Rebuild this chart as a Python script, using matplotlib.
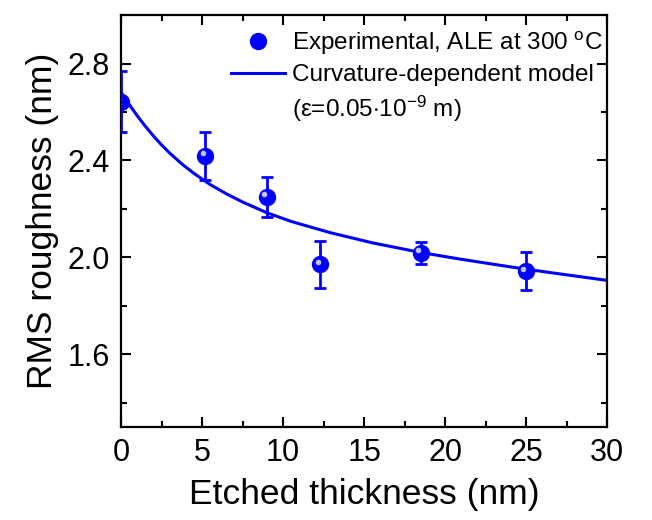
import matplotlib.pyplot as plt
import matplotlib.transforms as mtransforms
from matplotlib.lines import Line2D
from matplotlib.ticker import MultipleLocator

plt.rcParams['font.family'] = ['Liberation Sans', 'DejaVu Sans']
plt.rcParams['mathtext.fontset'] = 'custom'
plt.rcParams['mathtext.rm'] = 'Liberation Sans'
plt.rcParams['mathtext.it'] = 'Liberation Sans:italic'

# datos experimentales
espesor = [0.0, 5.2, 9.0, 12.3, 18.5, 25.0]
rms = [2.643, 2.418, 2.250, 1.971, 2.019, 1.942]
err = [0.125, 0.098, 0.082, 0.096, 0.046, 0.078]

# curva del modelo
x_mod = [0.0, 0.5, 1.0, 1.5, 2.0, 2.5, 3.0, 3.75, 4.5, 5.5, 6.5, 7.5, 9.0, 10.5,
         12.9, 15.5, 18.5, 21.0, 24.0, 26.5, 30.0]
y_mod = [2.68, 2.63, 2.583, 2.54, 2.5, 2.463, 2.43, 2.385, 2.346, 2.3, 2.262, 2.228, 2.184, 2.148,
         2.102, 2.06, 2.02, 1.992, 1.961, 1.937, 1.905]

azul = '#0000FF'

fig = plt.figure(figsize=(6.52, 5.2), dpi=100)
ax = fig.add_axes([0.186, 0.179, 0.745, 0.792])

ax.plot(x_mod, y_mod, color=azul, lw=2.2, zorder=2, solid_joinstyle='round')
ax.errorbar(espesor, rms, yerr=err, fmt='none', ecolor=azul, elinewidth=2, capsize=4, capthick=2, zorder=3)
ax.plot(espesor, rms, 'o', ms=11.5, color=azul, mec=azul, zorder=4)
# brillo de la esfera
brillo = mtransforms.offset_copy(ax.transData, fig=fig, x=-2, y=2, units='points')
ax.plot(espesor, rms, 'o', ms=4, color='#d8d8ff', mec='none', alpha=0.9, transform=brillo, zorder=5)

ax.set_xlim(0, 30)
ax.set_ylim(1.3, 3.0)
ax.xaxis.set_major_locator(MultipleLocator(5))
ax.xaxis.set_minor_locator(MultipleLocator(2.5))
ax.yaxis.set_minor_locator(MultipleLocator(0.2))
ax.set_yticks([1.6, 2.0, 2.4, 2.8])
ax.yaxis.set_major_formatter(plt.FuncFormatter(lambda v, p: f'{v:.1f}'))
ax.tick_params(which='both', direction='in', top=True, right=True, width=1.5, labelsize=22, pad=8)
ax.tick_params(which='major', length=7)
ax.tick_params(which='minor', length=4)
for s in ax.spines.values():
    s.set_linewidth(1.6)

ax.set_xlabel('Etched thickness (nm)', fontsize=25.5, labelpad=7)
ax.set_ylabel('RMS roughness (nm)', fontsize=25.5, labelpad=6)

h1 = Line2D([], [], marker='o', ls='none', ms=11.5, color=azul)
h2 = Line2D([], [], color=azul, lw=2.2)
h3 = Line2D([], [], ls='none')
ax.legend([h1, h2, h3],
          ['Experimental, ALE at 300 $^{\\mathrm{o}}$C', 'Curvature-dependent model',
           '($\\mathrm{\\epsilon}$=0.05$\\cdot$10$^{-9}$ m)'],
          loc='upper right', frameon=False, fontsize=17.5, handlelength=2.25,
          handletextpad=0.25, labelspacing=0.3, borderaxespad=0.0, borderpad=0.6,
          bbox_to_anchor=(1.02, 1.0))

fig.savefig('out.png', dpi=100)
